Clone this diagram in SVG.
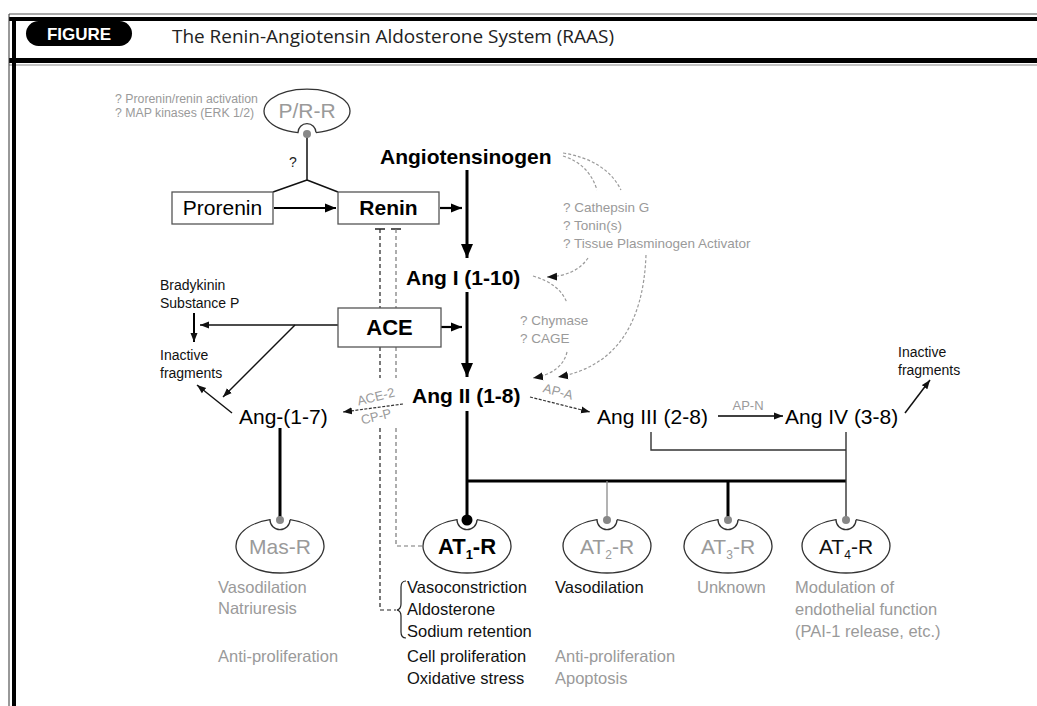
<svg xmlns="http://www.w3.org/2000/svg" width="1037" height="706" viewBox="0 0 1037 706">
<defs>
<marker id="aBig" markerUnits="userSpaceOnUse" markerWidth="14" markerHeight="14" refX="14" refY="7" orient="auto"><path d="M0,1 L14,7 L0,13 z" fill="#000"/></marker>
<marker id="aMed" markerUnits="userSpaceOnUse" markerWidth="11" markerHeight="10" refX="11" refY="5" orient="auto"><path d="M0,0.5 L11,5 L0,9.5 z" fill="#000"/></marker>
<marker id="aSm" markerUnits="userSpaceOnUse" markerWidth="9" markerHeight="8" refX="9" refY="4" orient="auto"><path d="M0,0.5 L9,4 L0,7.5 z" fill="#111"/></marker>
<marker id="aGr" markerUnits="userSpaceOnUse" markerWidth="10" markerHeight="9" refX="10" refY="4.5" orient="auto"><path d="M0,0.5 L10,4.5 L0,8.5 z" fill="#111"/></marker>
</defs>
<style>
text{font-family:"Liberation Sans",Arial,sans-serif}
.b{font-weight:bold}
.big{font-size:21px}
.gray{fill:#9a9a9a}
.sm{font-size:14px}
.eff{font-size:16.5px}
.box{fill:#fff;stroke:#555;stroke-width:1.3}
.rec{fill:#fff;stroke:#333;stroke-width:1.3}
.thick{stroke:#000;stroke-width:3;fill:none}
.thin{stroke:#111;stroke-width:1.5;fill:none}
.gline{stroke:#8a8a8a;stroke-width:1.3;fill:none}
.curve{stroke:#9a9a9a;stroke-width:1.2;fill:none;stroke-dasharray:3 2}
.dash1{stroke:#222;stroke-width:1.2;fill:none;stroke-dasharray:4 3}
.dash2{stroke:#777;stroke-width:1.2;fill:none;stroke-dasharray:4 3}
</style>
<rect width="1037" height="706" fill="#fff"/>
<g id="frame">
<line x1="9" y1="14" x2="1037" y2="14" stroke="#555" stroke-width="1"/>
<rect x="9" y="17" width="1028" height="4" fill="#000"/>
<rect x="9" y="58" width="1028" height="5" fill="#000"/>
<line x1="9" y1="65" x2="1037" y2="65" stroke="#888" stroke-width="1"/>
<line x1="9" y1="14" x2="9" y2="706" stroke="#333" stroke-width="1"/>
<rect x="12" y="17" width="4" height="689" fill="#000"/>
<rect x="26" y="21" width="106" height="25" rx="12.5" fill="#000"/>
<text x="79" y="40" text-anchor="middle" class="b" font-size="17" fill="#fff">FIGURE</text>
<text x="172" y="43" font-family="'Open Sans',sans-serif" style="font-family:'Open Sans',sans-serif" font-size="17.5" fill="#222" textLength="442" lengthAdjust="spacingAndGlyphs">The Renin-Angiotensin Aldosterone System (RAAS)</text>
</g>
<g id="connectors">
<path class="thin" d="M307,136 V180 M307,180 L273,192 M307,180 L338,192"/>
<text x="289" y="167" class="sm" fill="#222">?</text>
<line x1="274" y1="208" x2="336" y2="208" stroke="#000" stroke-width="2.2" marker-end="url(#aMed)"/>
<line x1="440" y1="208" x2="462" y2="208" stroke="#000" stroke-width="2.2" marker-end="url(#aMed)"/>
<line x1="467" y1="170" x2="467" y2="258" stroke="#000" stroke-width="3" marker-end="url(#aBig)"/>
<line x1="467" y1="292" x2="467" y2="377" stroke="#000" stroke-width="3" marker-end="url(#aBig)"/>
<line x1="441" y1="327" x2="462" y2="327" stroke="#000" stroke-width="2.2" marker-end="url(#aMed)"/>
<path class="thick" d="M467,411 V519"/>
<path class="thick" d="M467,481 H846" stroke-width="2.5"/>
<path class="gline" d="M607,481 V519"/>
<path class="thick" d="M728,481 V519"/>
<path stroke="#333" stroke-width="1.4" fill="none" d="M651,432 V450 H846 M846,432 V519"/>
<path class="thick" d="M280,428 V519" stroke-width="2.2"/>
<line x1="338" y1="325" x2="200" y2="325" class="thin" marker-end="url(#aSm)"/>
<line x1="295" y1="325" x2="223" y2="397" class="thin" marker-end="url(#aSm)"/>
<line x1="194" y1="313" x2="194" y2="342" stroke="#000" stroke-width="2" marker-end="url(#aSm)"/>
<line x1="232" y1="413" x2="197" y2="385" class="thin" marker-end="url(#aSm)"/>
<line x1="403" y1="404" x2="343" y2="412" stroke="#333" stroke-width="1.2" stroke-dasharray="3 1.5" marker-end="url(#aSm)"/>
<text x="376" y="401" font-size="13" class="gray" text-anchor="middle" transform="rotate(-14 376 397)">ACE-2</text>
<text x="376" y="421" font-size="13" class="gray" text-anchor="middle" transform="rotate(-14 376 416)">CP-P</text>
<line x1="530" y1="397" x2="590" y2="412" stroke="#333" stroke-width="1.2" stroke-dasharray="3 1.5" marker-end="url(#aSm)"/>
<text x="558" y="396" font-size="13" class="gray" text-anchor="middle" transform="rotate(15 558 392)">AP-A</text>
<line x1="718" y1="416" x2="783" y2="416" stroke="#000" stroke-width="1.5" marker-end="url(#aSm)"/>
<text x="748" y="410" font-size="13" class="gray" text-anchor="middle">AP-N</text>
<line x1="905" y1="413" x2="930" y2="380" class="thin" marker-end="url(#aSm)"/>
<path stroke="#222" stroke-width="1.3" d="M375,229 H385 M391,229 H401"/>
<path class="dash1" d="M380,229 V308 M380,347 V378 M380,428 V610 H396"/>
<path class="dash2" d="M396,229 V308 M396,347 V378 M396,428 V546 H423"/>
<path d="M406,581 Q401,581 401,587 V604 Q401,609 397,610 Q401,611 401,616 V632 Q401,638 406,638" stroke="#222" stroke-width="1.2" fill="none"/>
<path class="curve" d="M563,156 Q589,164 597,190"/>
<path class="curve" d="M563,153 Q606,160 621,190"/>
<path class="curve" d="M588,258 Q576,276 547,277" marker-end="url(#aGr)"/>
<path class="curve" d="M533,276 Q560,284 567,303"/>
<path class="curve" d="M567,352 Q562,373 533,378" marker-end="url(#aGr)"/>
<path class="curve" d="M646,255 Q642,362 558,377" marker-end="url(#aGr)"/>
</g>
<g id="n-prr">
<path class="rec" d="M316,132.6 A43,22 0 1,0 298,132.6 A9,9 0 0,1 316,132.6"/>
<circle cx="307" cy="134" r="4" fill="#888"/>
<text x="307" y="118" text-anchor="middle" font-size="21" class="gray">P/R-R</text>
<text x="115" y="103" font-size="12.3" class="gray">? Prorenin/renin activation</text>
<text x="115" y="117" font-size="12.3" class="gray">? MAP kinases (ERK 1/2)</text>
</g>
<g id="n-angiotensinogen"><text x="380" y="164" class="b big">Angiotensinogen</text></g>
<g id="n-prorenin"><rect class="box" x="172" y="192" width="101" height="32"/><text x="222.5" y="215" text-anchor="middle" class="big">Prorenin</text></g>
<g id="n-renin"><rect class="box" x="338" y="192" width="101" height="32"/><text x="388.5" y="215" text-anchor="middle" class="b big">Renin</text></g>
<g id="n-enzymes1">
<text x="563" y="212" font-size="13.5" class="gray">? Cathepsin G</text>
<text x="563" y="230" font-size="13.5" class="gray">? Tonin(s)</text>
<text x="563" y="248" font-size="13.5" class="gray">? Tissue Plasminogen Activator</text>
</g>
<g id="n-angI"><text x="406" y="285" class="b big">Ang I (1-10)</text></g>
<g id="n-ace"><rect class="box" x="338" y="308" width="103" height="39"/><text x="389.5" y="335" text-anchor="middle" class="b" font-size="22">ACE</text></g>
<g id="n-brady">
<text x="160" y="290" class="sm" fill="#111">Bradykinin</text>
<text x="160" y="308" class="sm" fill="#111">Substance P</text>
<text x="160" y="360" class="sm" fill="#111">Inactive</text>
<text x="160" y="378" class="sm" fill="#111">fragments</text>
</g>
<g id="n-enzymes2">
<text x="520" y="325" font-size="13.5" class="gray">? Chymase</text>
<text x="520" y="343" font-size="13.5" class="gray">? CAGE</text>
</g>
<g id="n-angII"><text x="412" y="403" class="b big">Ang II (1-8)</text></g>
<g id="n-ang17"><text x="239" y="424" class="big">Ang-(1-7)</text></g>
<g id="n-angIII"><text x="597" y="424" class="big">Ang III (2-8)</text></g>
<g id="n-angIV"><text x="785" y="424" class="big">Ang IV (3-8)</text></g>
<g id="n-inactive2">
<text x="898" y="357" class="sm" fill="#111">Inactive</text>
<text x="898" y="375" class="sm" fill="#111">fragments</text>
</g>
<g id="n-masr">
<path class="rec" d="M290,519.7 A44,27 0 1,1 270,519.7 A10,10 0 0,0 290,519.7"/>
<circle cx="280" cy="520" r="4" fill="#888"/>
<text x="280" y="554" text-anchor="middle" font-size="21" class="gray">Mas-R</text>
<text x="218" y="593" class="eff gray">Vasodilation</text>
<text x="218" y="614" class="eff gray">Natriuresis</text>
<text x="218" y="662" class="eff gray">Anti-proliferation</text>
</g>
<g id="n-at1r">
<path class="rec" d="M477,519.7 A44,27 0 1,1 457,519.7 A10,10 0 0,0 477,519.7"/>
<circle cx="467" cy="520" r="5.5" fill="#000"/>
<text x="467" y="554" text-anchor="middle" font-size="22" class="b">AT<tspan font-size="13" dy="5">1</tspan><tspan dy="-5">-R</tspan></text>
<text x="407" y="593" class="eff" fill="#111">Vasoconstriction</text>
<text x="407" y="615" class="eff" fill="#111">Aldosterone</text>
<text x="407" y="637" class="eff" fill="#111">Sodium retention</text>
<text x="407" y="662" class="eff" fill="#111">Cell proliferation</text>
<text x="407" y="684" class="eff" fill="#111">Oxidative stress</text>
</g>
<g id="n-at2r">
<path class="rec" d="M617,519.7 A44,27 0 1,1 597,519.7 A10,10 0 0,0 617,519.7"/>
<circle cx="607" cy="520" r="4" fill="#888"/>
<text x="607" y="554" text-anchor="middle" font-size="21" class="gray">AT<tspan font-size="12" dy="5">2</tspan><tspan dy="-5">-R</tspan></text>
<text x="555" y="593" class="eff" fill="#111">Vasodilation</text>
<text x="555" y="662" class="eff gray">Anti-proliferation</text>
<text x="555" y="684" class="eff gray">Apoptosis</text>
</g>
<g id="n-at3r">
<path class="rec" d="M738,519.7 A44,27 0 1,1 718,519.7 A10,10 0 0,0 738,519.7"/>
<circle cx="728" cy="520" r="4" fill="#888"/>
<text x="728" y="554" text-anchor="middle" font-size="21" class="gray">AT<tspan font-size="12" dy="5">3</tspan><tspan dy="-5">-R</tspan></text>
<text x="697" y="593" class="eff gray">Unknown</text>
</g>
<g id="n-at4r">
<path class="rec" d="M856,519.7 A44,27 0 1,1 836,519.7 A10,10 0 0,0 856,519.7"/>
<circle cx="846" cy="520" r="4" fill="#888"/>
<text x="846" y="554" text-anchor="middle" font-size="21" fill="#111">AT<tspan font-size="12" dy="5">4</tspan><tspan dy="-5">-R</tspan></text>
<text x="795" y="593" class="eff gray">Modulation of</text>
<text x="795" y="615" class="eff gray">endothelial function</text>
<text x="795" y="637" class="eff gray">(PAI-1 release, etc.)</text>
</g>
</svg>
